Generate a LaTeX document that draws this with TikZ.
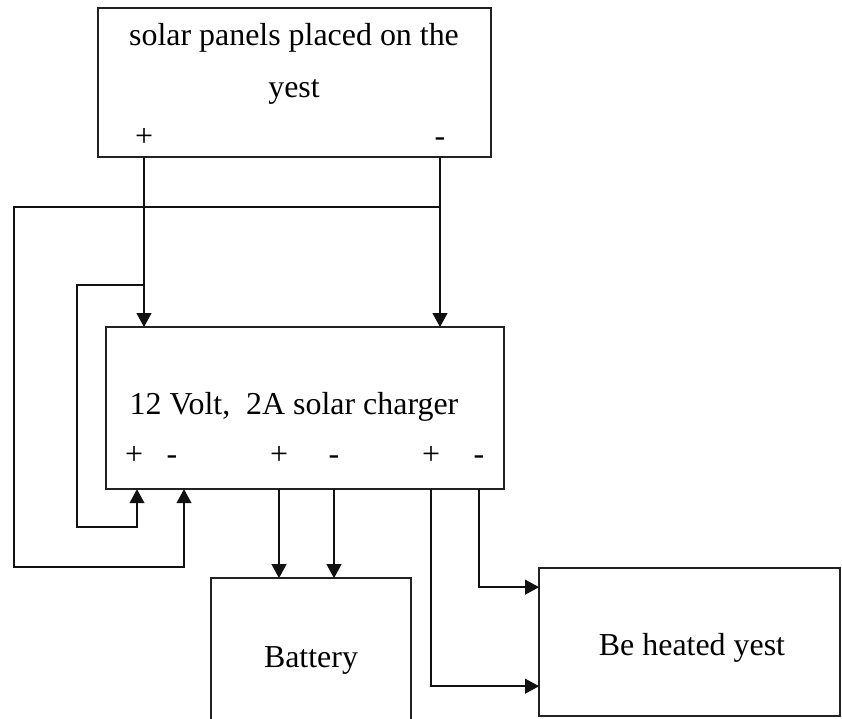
\documentclass[tikz,border=0pt]{standalone}
\usepackage{fontspec}
\setmainfont{Liberation Serif}
\usetikzlibrary{arrows.meta,positioning,calc}
\definecolor{wireblack}{HTML}{111111}
\definecolor{boxline}{HTML}{222222}
\tikzset{
  unitbox/.style={rectangle,draw=boxline,line width=1.3pt,fill=white,inner sep=0pt,outer sep=0pt},
  boxtext/.style={font=\fontsize{22.7}{27}\selectfont,align=center,inner sep=0pt},
  pole/.style={font=\fontsize{22.7}{27}\selectfont,inner sep=0pt,anchor=base},
  wire/.style={line width=1.3pt,draw=wireblack},
  feed/.style={wire,-{Triangle[length=10pt,width=10.5pt]}},
}
\begin{document}
\begin{tikzpicture}[x=0.025cm,y=0.025cm]
  \useasboundingbox (0,0) rectangle (842,-718);
  % boxes
  \node[unitbox,minimum width=9.825cm,minimum height=3.725cm,anchor=north west] (solar) at (98,-8) {};
  \node[unitbox,minimum width=9.95cm,minimum height=4.05cm,below right=4.25cm and 0.2cm of solar.south west] (charger) {};
  \node[unitbox,minimum width=5cm,minimum height=4.5cm,below right=2.225cm and 2.625cm of charger.south west] (battery) {};
  \node[unitbox,minimum width=7.525cm,minimum height=3.7cm,below right=1.975cm and 0.875cm of charger.south east] (load) {};
  \node[boxtext] (solartxt) at (294,-64) {solar panels placed on the\\[10pt]yest};
  \node[boxtext] (chargertxt) at (294,-407) {12 Volt,\ \ 2A solar charger};
  \node[boxtext] (batterytxt) at (311,-660) {Battery};
  \node[boxtext] (loadtxt) at (692,-648) {Be heated yest};
  % terminals
  \node[pole] (sp) at (144,-146) {+};
  \node[pole] (sm) at (440,-146) {-};
  \foreach \x/\s/\n in {134/+/cp1,172/-/cp2,279/+/cp3,334/-/cp4,431/+/cp5,479/-/cp6}
    \node[pole] (\n) at (\x,-464) {\s};
  % panel to charger
  \draw[feed] (solar.south -| sp) -- (charger.north -| sp);
  \draw[feed] (solar.south -| sm) -- (charger.north -| sm);
  % return loops
  \coordinate (jm) at ($(solar.south -| sm)+(0,-50)$);
  \coordinate (jp) at ($(solar.south -| sp)+(0,-128)$);
  \coordinate (outer) at (14,-567);
  \coordinate (inner) at (77,-527);
  \draw[feed] (jm) -| (outer) -| ($(charger.south west)+(78,0)$);
  \draw[feed] (jp) -| (inner) -| ($(charger.south west)+(31,0)$);
  % charger to battery and load
  \draw[feed] (charger.south -| cp3) -- (battery.north -| cp3);
  \draw[feed] (charger.south -| cp4) -- (battery.north -| cp4);
  \draw[feed] (charger.south -| cp5) |- ($(load.south west)+(0,30)$);
  \draw[feed] (charger.south -| cp6) |- ($(load.north west)+(0,-19)$);
\end{tikzpicture}
\end{document}
